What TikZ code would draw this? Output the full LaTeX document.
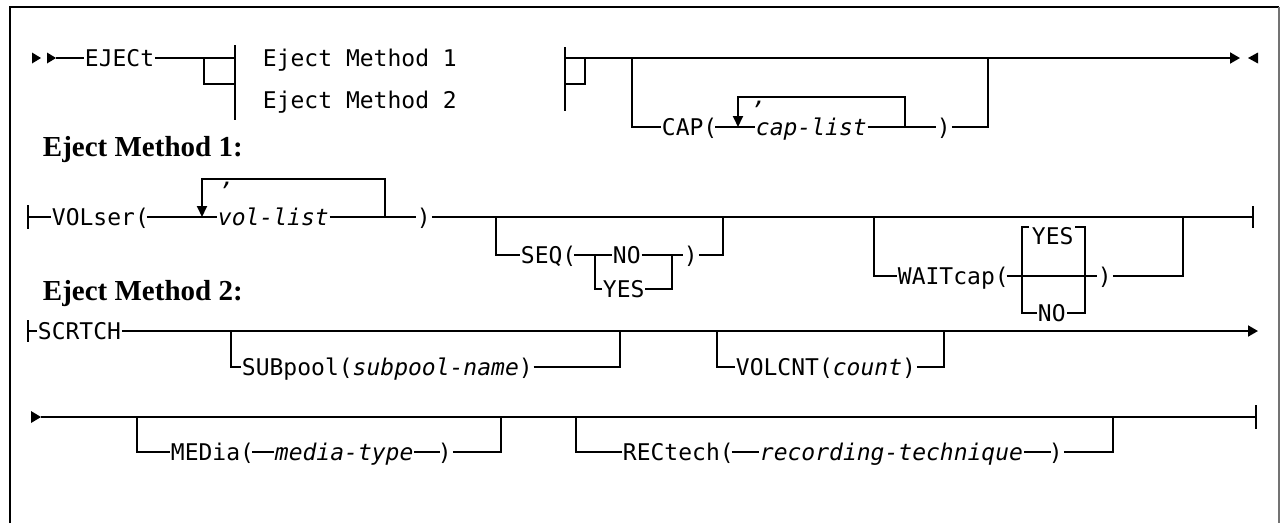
\documentclass[tikz,border=0pt]{standalone}
\usepackage{fontspec}
\setmainfont{Liberation Serif}
\setmonofont{DejaVu Sans Mono}
\usetikzlibrary{arrows.meta}

\begin{document}
\begin{tikzpicture}[x=1pt,y=-1pt,line width=1.9pt,
  kw/.style={font=\ttfamily\fontsize{23}{23}\selectfont,inner sep=0pt,text height=16.8pt,text depth=0pt,anchor=west},
  var/.style={kw,font=\ttfamily\itshape\fontsize{23}{23}\selectfont},
  head/.style={font=\bfseries\fontsize{29}{29}\selectfont,inner sep=0pt,anchor=base west},
  down/.style={arrows={-Triangle[length=11pt,width=10pt]}},
  fwd/.style={arrows={-Triangle[length=10pt,width=11pt]}}]
\useasboundingbox (0,0) rectangle (1280,523);
% frame
\draw (10,523) -- (10,7) -- (1279,7);
\draw[black!55] (1279,7) -- (1279,523);

% EJECT statement
\fill (32,52.5) -- (41,58) -- (32,63.5) -- cycle;
\fill (47,52.5) -- (56,58) -- (47,63.5) -- cycle;
\node[kw] (eject) at (84,58) {EJECt};
\node[kw] (meth1) at (262,58) {Eject Method 1};
\node[kw] (meth2) at (262,100) {Eject Method 2};
\coordinate (ba) at (235,58);
\draw (56,58) -- (eject.west);
\draw (eject.east) -- (ba);
\draw (204,58) |- (235,84);
\draw (235,45) -- (235,120);
\draw (565,47) -- (565,111);
\draw (565,84) -| (585,58);
\coordinate (enda) at (1240,58);
\draw[fwd] (565,58) -- (enda);
\fill (1258,52.5) -- (1248,58) -- (1258,63.5) -- cycle;
% CAP
\node[kw] (capkw) at (661,127) {CAP(};
\node[var] (caplist) at (755,127) {cap-list};
\node[kw] (capcl) at (936,127) {)};
\draw (632,58) |- (capkw.west);
\draw ([xshift=-3pt]capkw.east) -- (caplist.west);
\draw (caplist.east) -- (capcl.west);
\draw (capcl.east) -| (988,58);
\draw[down] (905,127) |- (738,97) -- (738,127);
\node[var,anchor=base] (capsep) at (760,104) {,};

% method 1
\node[head] (h1) at (42,156) {Eject Method 1:};
\draw (28,205) -- (28,229);
\node[kw] (volser) at (51,217) {VOLser(};
\node[var] (vollist) at (217,217) {vol-list};
\node[kw] (volcl) at (416,217) {)};
\draw (28,217) -- (volser.west);
\draw ([xshift=-3pt]volser.east) -- (vollist.west);
\draw (vollist.east) -- (volcl.west);
\draw (volcl.east) -- (1253,217);
\draw (1253,206) -- (1253,228);
\draw[down] (385,217) |- (202,179) -- (202,217);
\node[var,anchor=base] (volsep) at (228,185) {,};
% SEQ
\node[kw] (seqkw) at (520,255) {SEQ(};
\node[kw] (seqno) at (612,255) {NO};
\node[kw] (seqyes) at (602,289) {YES};
\node[kw] (seqcl) at (683,255) {)};
\draw (496,217) |- (seqkw.west);
\draw ([xshift=-3pt]seqkw.east) -- (seqno.west);
\draw (595,255) |- (seqyes.west);
\draw (seqyes.east) -| (672,255);
\draw (seqno.east) -- (seqcl.west);
\draw (seqcl.east) -| (723,217);
% WAITcap
\node[kw] (waitkw) at (897,276) {WAITcap(};
\node[kw,anchor=north west] (waityes) at (1031,227) {YES};
\node[kw] (waitno) at (1037,313) {NO};
\node[kw] (waitcl) at (1097,276) {)};
\draw (874,217) |- (waitkw.west);
\draw ([xshift=-3pt]waitkw.east) -- (waitcl.west);
\draw (1029,227) -- (1022,227) -- (1022,313) -- (waitno.west);
\draw (1075,227) -- (1085,227) -- (1085,313) -- (waitno.east);
\draw (waitcl.east) -| (1183,217);

% method 2
\node[head] (h2) at (42,300) {Eject Method 2:};
\draw (28,320) -- (28,342);
\node[kw] (scrtch) at (37,331) {SCRTCH};
\draw (28,331) -- (scrtch.west);
\draw[fwd] (scrtch.east) -- (1258,331);
\node[kw] (subkw) at (241,367) {SUBpool(\textit{subpool-name})};
\draw (231,331) |- (subkw.west);
\draw (subkw.east) -| (620,331);
\node[kw] (volcnt) at (735,367) {VOLCNT(\textit{count})};
\draw (717,331) |- (volcnt.west);
\draw (volcnt.east) -| (944,331);
% second line
\fill (31,411) -- (41,417) -- (31,423) -- cycle;
\draw (41,417) -- (1256,417);
\draw (1256,405) -- (1256,429);
\node[kw] (medkw) at (170,452) {MEDia(};
\node[var] (medvar) at (274,452) {media-type};
\node[kw] (medcl) at (437,452) {)};
\draw (137,417) |- (medkw.west);
\draw ([xshift=-3pt]medkw.east) -- (medvar.west);
\draw (medvar.east) -- ([xshift=3pt]medcl.west);
\draw (medcl.east) -| (501,417);
\node[kw] (reckw) at (622,452) {RECtech(};
\node[var] (recvar) at (759,452) {recording-technique};
\node[kw] (reccl) at (1048,452) {)};
\draw (576,417) |- (reckw.west);
\draw ([xshift=-3pt]reckw.east) -- (recvar.west);
\draw (recvar.east) -- ([xshift=3pt]reccl.west);
\draw (reccl.east) -| (1113,417);
\end{tikzpicture}
\end{document}
